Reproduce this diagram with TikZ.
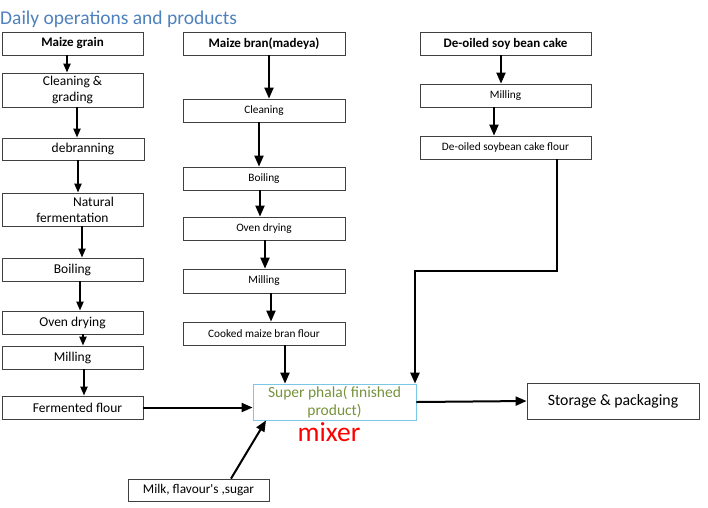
\documentclass[tikz,border=0pt]{standalone}
\usepackage{fontspec}
\setmainfont{Carlito}
\usetikzlibrary{arrows.meta}
\definecolor{titleblue}{RGB}{79,129,189}
\definecolor{mixgreen}{RGB}{118,146,60}
\definecolor{mixline}{RGB}{120,200,230}

\begin{document}
\begin{tikzpicture}[x=1pt,y=-1pt,
        box/.style={draw=black!75,line width=0.8pt,minimum height=23pt,inner sep=1pt,align=center},
        wa/.style={box,minimum width=141pt,font=\fontsize{13.5}{16}\selectfont},
        wb/.style={box,minimum width=162pt,font=\fontsize{11.3}{13}\selectfont},
        wc/.style={box,minimum width=171pt,font=\fontsize{11.3}{13}\selectfont},
        head/.style={font=\fontsize{13}{15}\bfseries\selectfont},
        arr/.style={-{Triangle[length=11pt,width=9pt]},line width=2pt},
        arrs/.style={arr,-{Triangle[length=9pt,width=7pt]}}]

    \useasboundingbox (0,0) rectangle (708,507);

    \node[anchor=base west,inner sep=0pt,text=titleblue,font=\fontsize{19.5}{21}\selectfont] (title) at (0,24) {Daily operations and products};

    \node[wa,head] (grain) at (72.5,43.5) {Maize grain};
    \node[wa,minimum height=34pt] (clean) at (72.5,90) {Cleaning \&\\grading};
    \node[wa,minimum width=142pt,minimum height=22pt] (debr) at (73,149) {\hspace*{20pt}debranning};
    \node[wa,minimum height=33pt] (ferm) at (72.5,209.5) {\hspace*{42pt}Natural\\fermentation};
    \node[wa] (boil) at (72.5,269.5) {Boiling};
    \node[wa] (oven) at (72.5,322.5) {Oven drying};
    \node[wa] (mill) at (72.5,357.5) {Milling};
    \node[wa] (fflour) at (72.5,407.5) {\hspace*{10pt}Fermented flour};

    \node[wb,head] (bran) at (264,43.5) {Maize bran(madeya)};
    \node[wb] (clean2) at (264,110.5) {Cleaning};
    \node[wb] (boil2) at (264,178.5) {Boiling};
    \node[wb] (oven2) at (264,228.5) {Oven drying};
    \node[wb,minimum height=24pt] (mill2) at (264,281) {Milling};
    \node[wb] (cook) at (264,333.5) {Cooked maize bran flour};

    \node[wc,head] (soy) at (505.5,43.5) {De-oiled soy bean cake};
    \node[wc] (mill3) at (505.5,95.5) {Milling};
    \node[wc] (sflour) at (505.5,147.5) {De-oiled soybean cake flour};

    \node[box,draw=mixline,text=mixgreen,minimum width=163pt,minimum height=36pt,inner sep=0pt,font=\fontsize{15.5}{18.5}\selectfont] (super) at (334.5,402) {Super phala( finished\\product)};
    \node[text=red,inner sep=0pt,font=\fontsize{27.5}{29}\selectfont] (mix) at (329,432) {mixer};
    \node[box,minimum width=172pt,minimum height=36pt,font=\fontsize{15.8}{18}\selectfont] (store) at (613,401) {Storage \& packaging};
    \node[box,minimum width=141pt,minimum height=22pt,font=\fontsize{13.3}{15}\selectfont] (milk) at (198.5,490) {Milk, flavour\textquotesingle s ,sugar};

    \draw[arrs] (grain.south -| 67,0) -- (clean.north -| 67,0);
    \draw[arrs] (clean.south -| 77,0) -- (debr.north -| 77,0);
    \draw[arrs] (debr.south -| 78,0) -- (ferm.north -| 78,0);
    \draw[arrs] (ferm.south -| 82,0) -- (boil.north -| 82,0);
    \draw[arrs] (boil.south -| 80,0) -- (oven.north -| 80,0);
    \draw[arrs] (oven.south -| 83,0) -- (mill.north -| 83,0);
    \draw[arrs] (mill.south -| 84,0) -- (fflour.north -| 84,0);

    \draw[arr] (bran.south -| 269,0) -- (clean2.north -| 269,0);
    \draw[arr] (clean2.south -| 259,0) -- (boil2.north -| 259,0);
    \draw[arr] (boil2.south -| 260,0) -- (oven2.north -| 260,0);
    \draw[arr] (oven2.south -| 265,0) -- (mill2.north -| 265,0);
    \draw[arr] (mill2.south -| 271,0) -- (cook.north -| 271,0);
    \draw[arr] (cook.south -| 285,0) -- (super.north -| 285,0);

    \draw[arr] (soy.south -| 501,0) -- (mill3.north -| 501,0);
    \draw[arr] (mill3.south -| 494,0) -- (sflour.north -| 494,0);
    \coordinate (bend) at (415,271);
    \draw[arr,line width=2.4pt] (sflour.south -| 557,0) |- (bend) -- (bend |- super.north);

    \draw[arr] (fflour.east) -- (fflour.east -| super.west);
    \draw[arr] (super.east) -- (store.west);
    \draw[arr] (milk.north -| 231,0) -- (super.south -| 266,0);
\end{tikzpicture}
\end{document}
